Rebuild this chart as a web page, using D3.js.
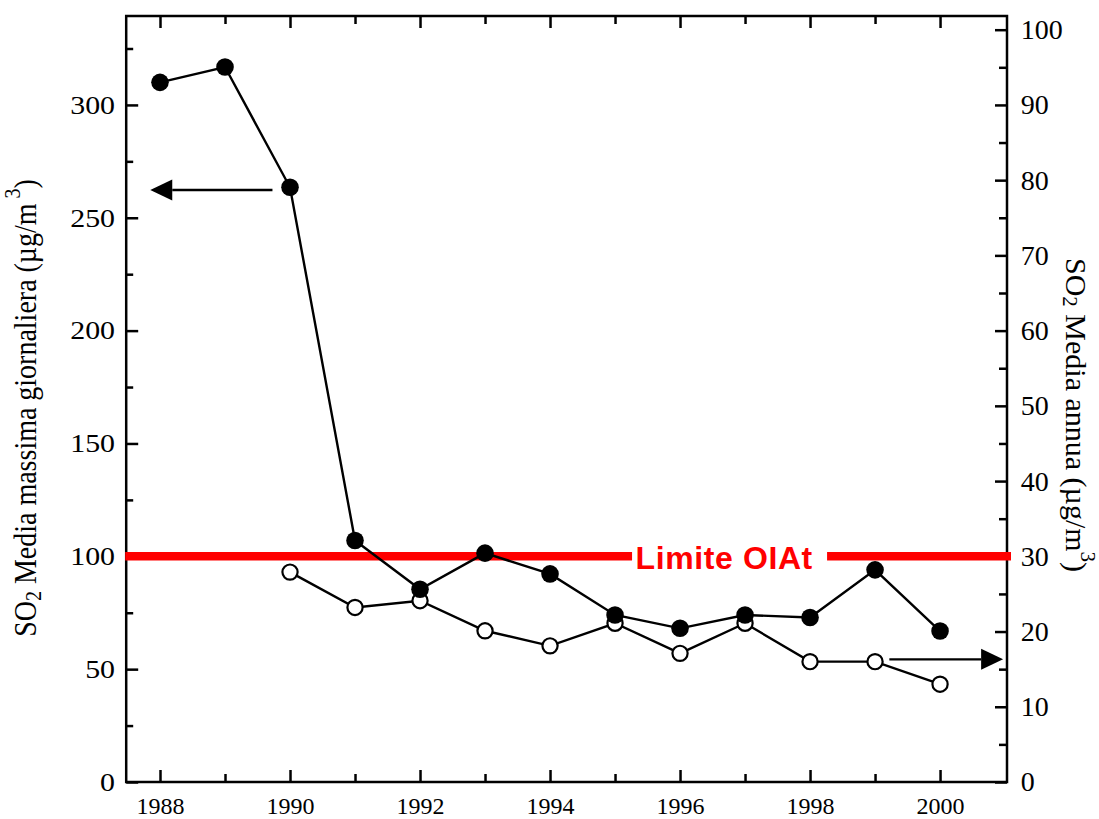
<!DOCTYPE html>
<html>
<head>
<meta charset="utf-8">
<script src="https://cdn.jsdelivr.net/npm/d3@7"></script>
<style>
  body { margin: 0; background: #fff; }
  svg { display: block; }
</style>
</head>
<body>
<svg id="chart" width="1099" height="819"></svg>
<script>
// SO2 in Ticino: maximum daily mean (left axis) and annual mean (right axis)
const years = [1988, 1989, 1990, 1991, 1992, 1993, 1994, 1995, 1996, 1997, 1998, 1999, 2000];
const maxDaily = [310.0, 316.8, 263.5, 107.0, 85.4, 101.4, 92.2, 74.0, 68.1, 74.0, 72.9, 94.0, 66.9];

const annualYears = [1990, 1991, 1992, 1993, 1994, 1995, 1996, 1997, 1998, 1999, 2000];
const annualMean = [27.9, 23.2, 24.1, 20.1, 18.1, 21.1, 17.1, 21.1, 16.0, 16.0, 13.0];

const limitValue = 100;            // OIAt limit, µg/m3 (left axis)
const limitLabel = "Limite OIAt";

const yearLabels = [1988, 1990, 1992, 1994, 1996, 1998, 2000];
const yearMinor = [1989, 1991, 1993, 1995, 1997, 1999];
const leftTicks = [0, 50, 100, 150, 200, 250, 300];
const leftMinor = [25, 75, 125, 175, 225, 275, 325];
const rightTicks = [0, 10, 20, 30, 40, 50, 60, 70, 80, 90, 100];
const rightMinor = [5, 15, 25, 35, 45, 55, 65, 75, 85, 95];

// arrows pointing each series to its axis: [x from, x to, y value]
const leftArrow = [1989.73, 1987.85, 262.3];
const rightArrow = [1999.22, 2000.97, 16.3];

const svg = d3.select("#chart");
const serif = "'Liberation Serif', 'Times New Roman', serif";
const sans = "'Liberation Sans', Arial, sans-serif";

const x = d3.scaleLinear().domain([1987.48, 2001.03]).range([126.2, 1007]);
const yL = d3.scaleLinear().domain([0, 339.4]).range([782, 16]);
const yR = d3.scaleLinear().domain([0, 339.4 * 0.3]).range([782, 16]);

const [x0, x1] = x.range();
const [yb, yt] = yL.range();
const axisStroke = 2.5;

function styleAxis(g) {
  g.select(".domain").remove();
  g.selectAll(".tick line").attr("stroke", "#000").attr("stroke-width", axisStroke);
  g.selectAll(".tick text").attr("fill", "#000");
}

// bottom axis
const gB = svg.append("g").attr("transform", `translate(0,${yb})`)
  .call(d3.axisBottom(x).tickValues(yearLabels).tickFormat(d3.format("d")).tickSize(-12).tickPadding(15))
  .call(styleAxis);
gB.selectAll(".tick text").attr("font-family", serif).attr("font-size", 24);
svg.append("g").attr("transform", `translate(0,${yb})`)
  .call(d3.axisBottom(x).tickValues(yearMinor).tickFormat("").tickSize(-8))
  .call(styleAxis);

// top axis (ticks only)
svg.append("g").attr("transform", `translate(0,${yt})`)
  .call(d3.axisTop(x).tickValues(yearLabels).tickFormat("").tickSize(-12))
  .call(styleAxis);
svg.append("g").attr("transform", `translate(0,${yt})`)
  .call(d3.axisTop(x).tickValues(yearMinor).tickFormat("").tickSize(-8))
  .call(styleAxis);

// left axis
const gL = svg.append("g").attr("transform", `translate(${x0},0)`)
  .call(d3.axisLeft(yL).tickValues(leftTicks).tickFormat(d3.format("d")).tickSize(-12).tickPadding(9.7))
  .call(styleAxis);
gL.selectAll(".tick text").attr("font-family", serif).attr("font-size", 26)
  .attr("transform", "scale(1.15,1)");
svg.append("g").attr("transform", `translate(${x0},0)`)
  .call(d3.axisLeft(yL).tickValues(leftMinor).tickFormat("").tickSize(-7))
  .call(styleAxis);

// right axis
const gR = svg.append("g").attr("transform", `translate(${x1},0)`)
  .call(d3.axisRight(yR).tickValues(rightTicks).tickFormat(d3.format("d")).tickSize(-12).tickPadding(13.7))
  .call(styleAxis);
gR.selectAll(".tick text").attr("font-family", serif).attr("font-size", 28);
svg.append("g").attr("transform", `translate(${x1},0)`)
  .call(d3.axisRight(yR).tickValues(rightMinor).tickFormat("").tickSize(-8))
  .call(styleAxis);

// frame
svg.append("rect")
  .attr("x", x0).attr("y", yt).attr("width", x1 - x0).attr("height", yb - yt)
  .attr("fill", "none").attr("stroke", "#000").attr("stroke-width", axisStroke);

// limit line with a gap for its label
const gapFrom = 1995.262, gapTo = 1998.262;
const red = "#ff0000";
svg.append("line")
  .attr("x1", x0 - 1).attr("x2", x(gapFrom))
  .attr("y1", yL(limitValue)).attr("y2", yL(limitValue))
  .attr("stroke", red).attr("stroke-width", 8.5);
svg.append("line")
  .attr("x1", x(gapTo)).attr("x2", x1 + 4)
  .attr("y1", yL(limitValue)).attr("y2", yL(limitValue))
  .attr("stroke", red).attr("stroke-width", 8.5);
svg.append("text")
  .attr("x", x(1996.68)).attr("y", yL(limitValue) + 13)
  .attr("text-anchor", "middle")
  .attr("font-family", sans).attr("font-weight", "bold").attr("font-size", 32)
  .attr("letter-spacing", 0.6)
  .attr("fill", red)
  .text(limitLabel);

// series lines
const lineL = d3.line().x((d, i) => x(years[i])).y(d => yL(d));
const lineR = d3.line().x((d, i) => x(annualYears[i])).y(d => yR(d));

svg.append("path").datum(annualMean)
  .attr("d", lineR).attr("fill", "none").attr("stroke", "#000").attr("stroke-width", 2.4);
svg.append("path").datum(maxDaily)
  .attr("d", lineL).attr("fill", "none").attr("stroke", "#000").attr("stroke-width", 2.4);

svg.append("g").selectAll("circle").data(annualMean).join("circle")
  .attr("cx", (d, i) => x(annualYears[i])).attr("cy", d => yR(d))
  .attr("r", 7.6).attr("fill", "#fff").attr("stroke", "#000").attr("stroke-width", 2.2);
svg.append("g").selectAll("circle").data(maxDaily).join("circle")
  .attr("cx", (d, i) => x(years[i])).attr("cy", d => yL(d))
  .attr("r", 8.8).attr("fill", "#000");

// axis arrows
function arrow(xFrom, xTo, yPix) {
  const dir = Math.sign(x(xTo) - x(xFrom));
  const tip = x(xTo), base = tip - dir * 22;
  svg.append("line")
    .attr("x1", x(xFrom)).attr("x2", base).attr("y1", yPix).attr("y2", yPix)
    .attr("stroke", "#000").attr("stroke-width", 2.4);
  svg.append("path")
    .attr("d", `M${tip},${yPix} L${base},${yPix - 10.5} L${base},${yPix + 10.5} Z`)
    .attr("fill", "#000");
}
arrow(leftArrow[0], leftArrow[1], yL(leftArrow[2]));
arrow(rightArrow[0], rightArrow[1], yR(rightArrow[2]));

// axis titles
const tL = svg.append("text")
  .attr("transform", "translate(25,408) scale(1.15,1) rotate(-90)")
  .attr("text-anchor", "middle").attr("dominant-baseline", "central")
  .attr("font-family", serif).attr("font-size", 28).attr("fill", "#000");
tL.append("tspan").text("SO");
tL.append("tspan").attr("font-size", 20).attr("dy", 7).text("2");
tL.append("tspan").attr("dy", -7).text(" Media massima giornaliera (µg/m");
tL.append("tspan").attr("font-size", 20).attr("dx", 5).attr("dy", -11).text("3");
tL.append("tspan").attr("dy", 11).text(")");

const tR = svg.append("text")
  .attr("transform", "translate(1077,415) rotate(90)")
  .attr("text-anchor", "middle").attr("dominant-baseline", "central")
  .attr("font-family", serif).attr("font-size", 30).attr("fill", "#000");
tR.append("tspan").text("SO");
tR.append("tspan").attr("font-size", 21).attr("dy", 7).text("2");
tR.append("tspan").attr("dy", -7).text(" Media annua (µg/m");
tR.append("tspan").attr("font-size", 21).attr("dy", -11).text("3");
tR.append("tspan").attr("dy", 11).text(")");
</script>
</body>
</html>
